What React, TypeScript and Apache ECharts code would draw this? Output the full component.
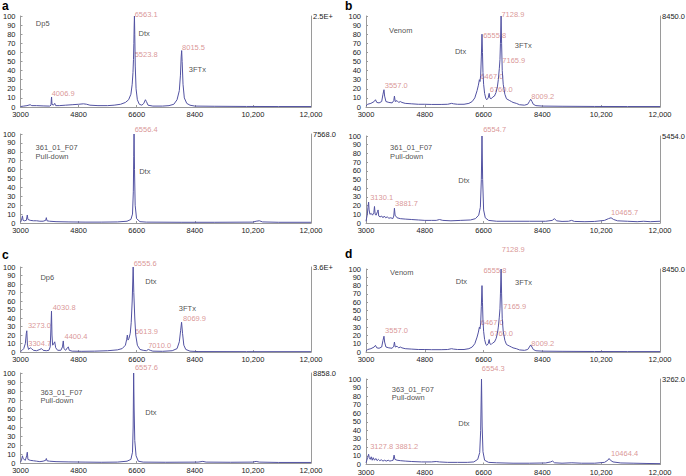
import React, { useEffect, useRef } from 'react';
import * as echarts from 'echarts';

type Pt = [number, number];
type Note = [string, number, number];

// ---------- axis ticks ----------
const xTickValues = [3000, 4800, 6600, 8400, 10200, 12000];
const yMin = 0;
const yMax = 100;
const yStep = 10;

// ---------- panel titles ----------
const panelLetters = ['a', 'b', 'c', 'd'];
const scaleLabels = ['2.5E+', '7568.0', '8450.0', '5454.0', '3.6E+', '8858.0', '8450.0', '3262.0'];

// ---------- spectra (m/z, relative intensity %) ----------
const dp5Spectrum: Pt[] = [
  [3000, 0.5], [3100, 1], [3200, 1.5], [3300, 2.5], [3350, 1.5], [3500, 1.5], [3700, 1.2], [3900, 1],
  [3945, 2], [3955, 8], [3962, 11], [3975, 3], [4020, 2], [4060, 4], [4090, 1.5], [4200, 1.5],
  [4400, 2], [4600, 2.5], [4800, 3], [4950, 3.5], [5050, 3], [5150, 2], [5400, 1.5], [5700, 1.5],
  [5900, 2], [6100, 3], [6250, 5], [6350, 8], [6420, 14], [6460, 25], [6485, 38], [6500, 52],
  [6512, 70], [6522, 90], [6530, 100], [6540, 80], [6555, 45], [6580, 20], [6620, 8], [6680, 3],
  [6760, 2], [6820, 4], [6870, 8], [6900, 6], [6950, 2], [7100, 1], [7400, 1], [7600, 1.5],
  [7750, 3], [7850, 8], [7920, 18], [7955, 35], [7978, 55], [7993, 62], [8008, 50], [8035, 25],
  [8075, 10], [8150, 4], [8250, 2], [8400, 1], [9000, 0.8], [10000, 0.6], [11000, 0.5], [12000, 0.5],
];

const pull361aSpectrum: Pt[] = [
  [3000, 1], [3030, 3], [3060, 8], [3080, 3], [3120, 2.5], [3180, 3], [3210, 9], [3230, 4],
  [3300, 3], [3400, 2.5], [3500, 2.5], [3600, 2], [3700, 2], [3780, 3], [3800, 6], [3820, 2.5],
  [3900, 2], [4100, 1.5], [4500, 1.2], [5000, 1], [5500, 1], [6000, 1.2], [6300, 2], [6420, 4],
  [6470, 10], [6495, 35], [6508, 75], [6518, 100], [6532, 60], [6552, 20], [6595, 5], [6700, 1.5],
  [6900, 1], [8000, 0.8], [9000, 0.8], [10200, 1], [10300, 2], [10400, 2.5], [10500, 1.2],
  [11000, 0.8], [12000, 0.8],
];

const venomSpectrum: Pt[] = [
  [3000, 1], [3050, 3], [3150, 4], [3250, 6], [3290, 8], [3330, 5], [3400, 4.5], [3480, 6],
  [3520, 14], [3550, 19], [3570, 12], [3610, 6], [3700, 5], [3800, 4.5], [3850, 7], [3870, 12],
  [3895, 6], [3950, 7], [4000, 5], [4050, 6], [4100, 5], [4200, 4], [4400, 3.5], [4600, 3],
  [4800, 3], [5000, 2.8], [5300, 2.8], [5500, 3], [5620, 4], [5680, 3.5], [5800, 3], [6000, 3],
  [6150, 4], [6250, 6], [6330, 10], [6400, 18], [6440, 24], [6470, 30], [6490, 28], [6510, 35],
  [6530, 55], [6550, 80], [6565, 60], [6580, 38], [6600, 25], [6630, 15], [6670, 9], [6700, 8],
  [6740, 10], [6770, 15], [6790, 10], [6830, 9], [6880, 11], [6930, 12], [6980, 16], [7020, 22],
  [7050, 30], [7080, 42], [7100, 52], [7115, 70], [7135, 100], [7150, 70], [7170, 40], [7200, 25],
  [7250, 14], [7300, 9], [7400, 7], [7450, 6], [7500, 5], [7600, 4], [7700, 2.5], [7850, 2],
  [7950, 3], [8000, 6], [8040, 8.5], [8080, 6], [8120, 3], [8200, 1.5], [8400, 1], [9000, 0.8],
  [10000, 0.6], [11000, 0.5], [12000, 0.5],
];

const pull361bSpectrum: Pt[] = [
  [3000, 2], [3040, 10], [3060, 18], [3080, 24], [3095, 15], [3120, 10], [3160, 11], [3200, 9],
  [3240, 12], [3260, 19], [3280, 10], [3310, 9], [3350, 13], [3370, 15], [3390, 8], [3430, 7],
  [3480, 8], [3520, 6], [3560, 8], [3600, 6], [3650, 7], [3700, 5.5], [3760, 6], [3820, 5],
  [3850, 8], [3870, 17], [3890, 9], [3950, 6], [4050, 5], [4200, 4.5], [4400, 4], [4600, 3.5],
  [4800, 3], [5000, 3], [5150, 3], [5250, 4], [5350, 3], [5600, 2.5], [5900, 3], [6200, 3.5],
  [6350, 5], [6450, 9], [6500, 18], [6530, 50], [6550, 100], [6570, 50], [6600, 15], [6650, 6],
  [6750, 3], [7000, 2], [7500, 2], [8000, 2], [8500, 2], [8700, 3], [8770, 5], [8830, 2.5],
  [9000, 1.8], [9200, 2], [9290, 3], [9380, 1.8], [9700, 1.5], [10000, 1.8], [10300, 3], [10420, 5],
  [10500, 6], [10580, 4], [10700, 2.5], [11000, 2], [11300, 1.5], [11500, 2], [11700, 1.5], [12000, 2],
];

const dp6Spectrum: Pt[] = [
  [3000, 0.5], [3050, 2], [3100, 4], [3150, 10], [3180, 22], [3195, 25], [3215, 8], [3250, 3],
  [3300, 5], [3340, 4], [3400, 2], [3500, 1.5], [3600, 3], [3650, 4], [3700, 2], [3800, 1.5],
  [3880, 2], [3920, 6], [3945, 30], [3960, 48], [3975, 20], [3995, 8], [4020, 9], [4060, 12],
  [4090, 5], [4150, 2], [4250, 2], [4300, 6], [4325, 13], [4345, 4], [4400, 2], [4450, 5],
  [4480, 6], [4510, 2], [4600, 1], [4900, 0.8], [5300, 1], [5700, 1.5], [6000, 2.5], [6150, 4],
  [6250, 8], [6290, 15], [6310, 20], [6330, 14], [6360, 16], [6400, 22], [6430, 35], [6460, 60],
  [6490, 100], [6510, 70], [6540, 40], [6570, 20], [6620, 8], [6700, 3], [6800, 2], [6900, 1.5],
  [6960, 3], [7020, 2], [7100, 1], [7400, 0.8], [7700, 1.5], [7850, 4], [7920, 12], [7960, 25],
  [7990, 35], [8020, 22], [8060, 8], [8120, 3], [8250, 1], [8500, 0.5], [10000, 0.4], [12000, 0.4],
];

const pull363aSpectrum: Pt[] = [
  [3000, 1], [3030, 3], [3060, 8], [3080, 5], [3110, 4], [3150, 3], [3190, 8], [3210, 12],
  [3230, 4], [3300, 3], [3400, 2.5], [3500, 2], [3600, 1.5], [3700, 2], [3780, 3], [3800, 5],
  [3820, 2.5], [3900, 2], [4100, 1.5], [4500, 1.2], [5000, 1], [5500, 0.8], [6000, 1], [6300, 2],
  [6420, 4], [6470, 12], [6490, 40], [6505, 100], [6520, 60], [6540, 25], [6580, 8], [6650, 2],
  [6800, 1], [7500, 0.8], [8500, 1], [8650, 1.8], [8750, 1], [9500, 0.8], [10200, 1], [10300, 1.8],
  [10400, 1], [11000, 0.6], [12000, 0.6],
];

const pull363bSpectrum: Pt[] = [
  [3000, 2], [3050, 8], [3080, 12], [3100, 8], [3130, 6], [3160, 9], [3190, 5], [3220, 8],
  [3260, 5], [3300, 7], [3340, 4.5], [3380, 6], [3420, 4.5], [3470, 5.5], [3520, 4], [3570, 5],
  [3620, 4], [3680, 5], [3730, 4], [3780, 4.5], [3830, 5], [3860, 11], [3885, 6], [3950, 5],
  [4050, 4.5], [4200, 4], [4400, 3.5], [4700, 3], [5000, 3], [5150, 3.5], [5250, 3], [5500, 2.5],
  [5800, 2.5], [6100, 2.5], [6300, 3], [6420, 6], [6480, 14], [6510, 40], [6535, 100], [6555, 45],
  [6580, 15], [6630, 5], [6750, 2.5], [7000, 2], [7500, 1.5], [8000, 1.5], [8500, 1.8], [8650, 3],
  [8710, 4], [8770, 2], [9000, 1.5], [9300, 2], [9600, 1.5], [10000, 1.5], [10300, 2.5], [10400, 5],
  [10440, 7], [10480, 5], [10560, 3], [10800, 1.8], [11200, 1.5], [11600, 1.2], [12000, 1],
];

// ---------- annotations: [text, m/z, intensity] ----------
const dp5Notes: Note[] = [['Dp5', 3460, 92], ['Dtx', 6640, 81], ['3FTx', 8200, 41]];
const dp5Peaks: Note[] = [['6563.1', 6520, 102], ['5523.8', 6520, 58], ['8015.5', 7990, 65], ['4006.9', 3950, 15]];

const pull361aNotes: Note[] = [['361_01_F07', 3450, 85], ['Pull-down', 3450, 74.5], ['Dtx', 6660, 58]];
const pull361aPeaks: Note[] = [['6556.4', 6520, 104.5]];

const venomBNotes: Note[] = [['Venom', 3690, 84], ['Dtx', 5705, 61], ['3FTx', 7536, 68]];
const venomBPeaks: Note[] = [
  ['7128.9', 7128, 102], ['6555.8', 6570, 79], ['7165.9', 7157, 51.6], ['6467.0', 6487, 33.3],
  ['6760.0', 6773, 18.7], ['3557.0', 3558, 23.8], ['8009.2', 8041, 11.3],
];

const pull361bNotes: Note[] = [['361_01_F07', 3723, 87], ['Pull-down', 3723, 76.7], ['Dtx', 5807, 48.3]];
const pull361bPeaks: Note[] = [['6554.7', 6570, 107], ['3130.1', 3113, 29], ['3881.7', 3875, 22], ['10465.7', 10484, 12.3]];

const dp6Notes: Note[] = [['Dp6', 3600, 88], ['Dtx', 6850, 82.7], ['3FTx', 7890, 51.4]];
const dp6Peaks: Note[] = [
  ['6555.6', 6490, 104], ['4030.8', 3980, 52.6], ['3273.0', 3214, 31], ['8069.9', 8020, 39.6],
  ['6613.9', 6530, 24], ['4400.4', 4347, 18], ['3304.7', 3224, 10.2], ['7010.0', 6940, 8.2],
];

const pull363aNotes: Note[] = [['363_01_F07', 3600, 78.5], ['Pull-down', 3600, 69], ['Dtx', 6850, 56]];
const pull363aPeaks: Note[] = [['6557.6', 6530, 106]];

const venomDNotes: Note[] = [['Venom', 3723, 96], ['Dtx', 5734, 85.5], ['3FTx', 7545, 84]];
const venomDPeaks: Note[] = [
  ['7128.9', 7140, 123], ['6555.8', 6578, 97.6], ['7165.9', 7187, 55.4], ['6467.0', 6497, 35.7],
  ['6760.0', 6783, 21.7], ['3557.0', 3568, 25.7], ['8009.2', 8044, 10.5],
];

const pull363bNotes: Note[] = [['363_01_F07', 3773, 88.3], ['Pull-down', 3773, 78.8], ['Dtx', 5807, 48.5]];
const pull363bPeaks: Note[] = [['6554.3', 6530, 112], ['3127.8', 3113, 20.5], ['3881.2', 3880, 20.5], ['10464.4', 10484, 12.8]];

// ---------- layout (pixels) ----------
const gridRects: [number, number, number, number][] = [
  [17, 16, 294, 91],
  [17, 134, 294, 89],
  [366, 16, 295, 91],
  [366, 136, 295, 87],
  [17, 267, 294, 85],
  [17, 373, 294, 90],
  [366, 269, 295, 83],
  [366, 379, 295, 88],
];
const letterPos: [number, number][] = [[2, 0], [345, 0], [2, 249], [345, 248]];

const panels = [
  { spectrum: dp5Spectrum, notes: dp5Notes, peaks: dp5Peaks },
  { spectrum: pull361aSpectrum, notes: pull361aNotes, peaks: pull361aPeaks },
  { spectrum: venomSpectrum, notes: venomBNotes, peaks: venomBPeaks },
  { spectrum: pull361bSpectrum, notes: pull361bNotes, peaks: pull361bPeaks },
  { spectrum: dp6Spectrum, notes: dp6Notes, peaks: dp6Peaks },
  { spectrum: pull363aSpectrum, notes: pull363aNotes, peaks: pull363aPeaks },
  { spectrum: venomSpectrum, notes: venomDNotes, peaks: venomDPeaks },
  { spectrum: pull363bSpectrum, notes: pull363bNotes, peaks: pull363bPeaks },
];

const FONT = "'Liberation Sans', Arial, Helvetica, sans-serif";
const AXIS = '#9a9a9a';
const TEXT = '#1a1a1a';
const PEAK = '#cf7b7b';
const LINE = '#5252a2';

function buildOption() {
  const grid = gridRects.map(([left, top, width, height]) => ({ left, top, width, height, containLabel: false }));
  const xAxis = panels.map((_, i) => ({
    type: 'value',
    gridIndex: i,
    min: xTickValues[0],
    max: xTickValues[xTickValues.length - 1],
    splitLine: { show: false },
    axisLine: { show: true, lineStyle: { color: AXIS, width: 1 } },
    axisTick: { show: true, inside: true, length: 2, customValues: xTickValues, lineStyle: { color: AXIS } },
    axisLabel: {
      customValues: xTickValues,
      fontSize: 7.5,
      lineHeight: 7,
      fontFamily: FONT,
      color: TEXT,
      margin: 4,
      formatter: (v: number) => (v >= 10000 ? v.toLocaleString('en-US') : String(v)),
    },
  }));
  const yAxis: any[] = [];
  panels.forEach((_, i) => {
    yAxis.push({
      type: 'value',
      gridIndex: i,
      position: 'left',
      min: yMin,
      max: yMax,
      interval: yStep,
      splitLine: { show: false },
      axisLine: { show: true, lineStyle: { color: AXIS, width: 1 } },
      axisTick: { show: true, inside: true, length: 2, lineStyle: { color: AXIS } },
      axisLabel: { fontSize: 7.5, lineHeight: 7, fontFamily: FONT, color: TEXT, margin: 5 },
    });
    yAxis.push({
      type: 'value',
      gridIndex: i,
      position: 'right',
      min: yMin,
      max: yMax,
      interval: yStep,
      splitLine: { show: false },
      axisLine: { show: true, lineStyle: { color: AXIS, width: 1 } },
      axisTick: { show: false },
      axisLabel: { show: false },
      name: scaleLabels[i],
      nameLocation: 'end',
      nameGap: 0,
      nameTextStyle: {
        fontSize: 7.5,
        fontFamily: FONT,
        color: TEXT,
        align: 'left',
        verticalAlign: 'middle',
        padding: [0, 0, 0, 2],
      },
    });
  });

  const series: any[] = [];
  panels.forEach((p, i) => {
    series.push({
      type: 'line',
      xAxisIndex: i,
      yAxisIndex: i * 2,
      data: p.spectrum,
      showSymbol: false,
      symbol: 'none',
      lineStyle: { color: LINE, width: 1 },
      clip: true,
      silent: true,
    });
    const labelData = [
      ...p.notes.map(([t, x, y]) => ({ value: [x, y], name: t, label: { color: TEXT, fontSize: 7.5 } })),
      ...p.peaks.map(([t, x, y]) => ({ value: [x, y], name: t, label: { color: PEAK, fontSize: 7.5 } })),
    ];
    series.push({
      type: 'scatter',
      xAxisIndex: i,
      yAxisIndex: i * 2,
      data: labelData,
      symbolSize: 1,
      itemStyle: { color: 'rgba(0,0,0,0)' },
      clip: false,
      silent: true,
      label: {
        show: true,
        position: 'right',
        distance: 0,
        lineHeight: 8,
        fontFamily: FONT,
        formatter: (d: any) => d.name,
      },
      labelLayout: { hideOverlap: false },
    });
  });

  const graphic = panelLetters.map((l, i) => ({
    type: 'text',
    left: letterPos[i][0],
    top: letterPos[i][1],
    style: { text: l, fontSize: 12, fontWeight: 'bold', fontFamily: FONT, fill: '#000' },
  }));

  return { animation: false, backgroundColor: '#fff', grid, xAxis, yAxis, series, graphic };
}

export default function App() {
  const ref = useRef<HTMLDivElement>(null);
  useEffect(() => {
    document.body.style.margin = '0';
    if (!ref.current) return;
    const chart = echarts.init(ref.current, undefined, { renderer: 'svg' });
    chart.setOption(buildOption() as any);
    return () => chart.dispose();
  }, []);
  return <div ref={ref} style={{ width: 686, height: 476, position: 'absolute', left: 0, top: 0, background: '#fff' }} />;
}
